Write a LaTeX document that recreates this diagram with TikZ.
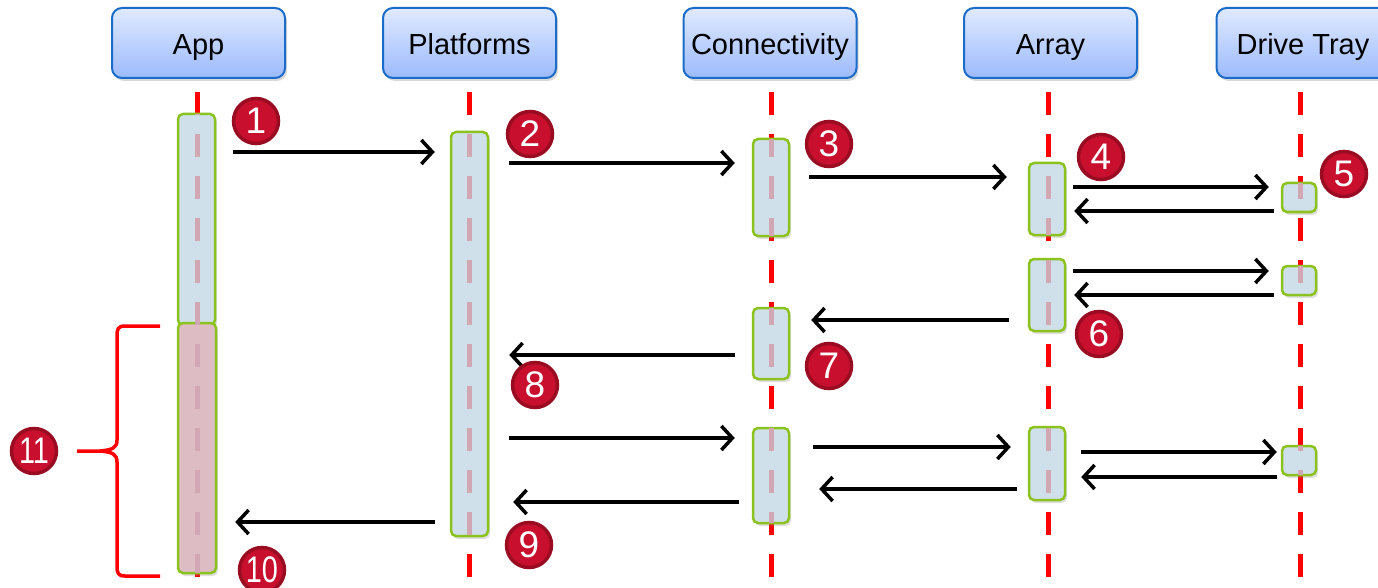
\documentclass[tikz,border=0pt]{standalone}
\usepackage{fontspec}
\setmainfont{Liberation Sans}
\usetikzlibrary{arrows.meta,shadows,fit}
\definecolor{headtop}{HTML}{E0EAFF}
\definecolor{headbot}{HTML}{9CBAFD}
\definecolor{headborder}{HTML}{1A6CC8}
\definecolor{actfill}{HTML}{CFE0EA}
\definecolor{actborder}{HTML}{8CC21E}
\definecolor{actpink}{HTML}{DEBCC4}
\definecolor{pinkdash}{HTML}{D2A7B4}
\definecolor{lifered}{HTML}{FF0000}
\definecolor{numfill}{HTML}{C8102E}
\definecolor{numring}{HTML}{9A0C22}
\tikzset{
  head/.style={draw=headborder, line width=2pt, rounded corners=10pt,
    top color=headtop, bottom color=headbot, minimum width=173pt, minimum height=70pt,
    font=\fontsize{29}{33}\selectfont, text=black, text height=23pt, text depth=0pt,
    drop shadow={shadow xshift=2pt, shadow yshift=-3pt, opacity=0.3}},
  life/.style={draw=lifered, line width=5pt, dash pattern=on 23pt off 19pt},
  pinkline/.style={draw=pinkdash, line width=5pt, dash pattern=on 23pt off 19pt},
  act/.style={draw=actborder, fill=actfill, line width=2.5pt, rounded corners=5pt, inner sep=0pt,
    drop shadow={shadow xshift=2pt, shadow yshift=-3pt, opacity=0.25}},
  actp/.style={act, fill=actpink},
  msg/.style={draw=black, line width=3.5pt, -{Straight Barb[length=11pt,width=24pt]}},
  num/.style={circle, fill=numfill, draw=numring, line width=3.5pt, minimum size=45pt, inner sep=0pt,
    text=white, font=\fontsize{37}{37}\selectfont},
  brace/.style={draw=lifered, line width=3.5pt, line join=round}
}
\begin{document}
\begin{tikzpicture}[x=1pt,y=-1pt]
\useasboundingbox (0,0) rectangle (1378,588);
% headers
\node[head] (hApp) at (198.5,43) {App};
\node[head] (hPlat) at (469.5,43) {Platforms};
\node[head] (hConn) at (770,43) {Connectivity};
\node[head] (hArr) at (1050.5,43) {Array};
\node[head] (hDrv) at (1303,43) {Drive Tray};
% lifelines
\foreach \lx in {197,469,771,1048,1300}{
  \draw[life] (\lx,92) -- (\lx,588);
}
% activation boxes
\node[act, fit={(178,114) (215,325)}] (A1) {};
\node[actp, fit={(178,323) (216,573)}] (A2) {};
\node[act, fit={(451,132) (488,536)}] (P1) {};
\node[act, fit={(753,139) (789,236)}] (C1) {};
\node[act, fit={(753,308) (789,379)}] (C2) {};
\node[act, fit={(753,428) (789,523)}] (C3) {};
\node[act, fit={(1029,163) (1065,235)}] (R1) {};
\node[act, fit={(1029,259) (1065,331)}] (R2) {};
\node[act, fit={(1029,427) (1065,500)}] (R3) {};
\node[act, fit={(1282,183) (1316,212)}] (D1) {};
\node[act, fit={(1282,266) (1316,295)}] (D2) {};
\node[act, fit={(1282,446) (1316,475)}] (D3) {};
% pink dashes inside boxes
\foreach \n/\lx in {A1/197,A2/197,P1/469,C1/771,C2/771,C3/771,R1/1048,R2/1048,R3/1048,D1/1300,D2/1300,D3/1300}{
  \begin{scope}
    \clip ([shift={(1.5pt,-1.5pt)}]\n.north west) rectangle ([shift={(-1.5pt,1.5pt)}]\n.south east);
    \draw[pinkline] (\lx,92) -- (\lx,588);
  \end{scope}
}
% messages
\draw[msg, shorten <=17pt, shorten >=15pt] (A1.east |- 0,152) -- (P1.west |- 0,152);
\draw[msg, shorten <=20pt, shorten >=17pt] (P1.east |- 0,163) -- (C1.west |- 0,163);
\draw[msg, shorten <=19pt, shorten >=21pt] (C1.east |- 0,177) -- (R1.west |- 0,177);
\draw[msg, shorten <=7pt, shorten >=12pt] (R1.east |- 0,187) -- (D1.west |- 0,187);
\draw[msg, shorten <=7pt, shorten >=8pt] (D1.west |- 0,211) -- (R1.east |- 0,211);
\draw[msg, shorten <=7pt, shorten >=12pt] (R2.east |- 0,271) -- (D2.west |- 0,271);
\draw[msg, shorten <=7pt, shorten >=8pt] (D2.west |- 0,295) -- (R2.east |- 0,295);
\draw[msg, shorten <=19pt, shorten >=21pt] (R2.west |- 0,320) -- (C2.east |- 0,320);
\draw[msg, shorten <=17pt, shorten >=20pt] (C2.west |- 0,355) -- (P1.east |- 0,355);
\draw[msg, shorten <=20pt, shorten >=17pt] (P1.east |- 0,438) -- (C3.west |- 0,438);
\draw[msg, shorten <=23pt, shorten >=17pt] (C3.east |- 0,447) -- (R3.west |- 0,447);
\draw[msg, shorten <=15pt, shorten >=4pt] (R3.east |- 0,452) -- (D3.west |- 0,452);
\draw[msg, shorten <=4pt, shorten >=15pt] (D3.west |- 0,477) -- (R3.east |- 0,477);
\draw[msg, shorten <=11pt, shorten >=29pt] (R3.west |- 0,489) -- (C3.east |- 0,489);
\draw[msg, shorten <=13pt, shorten >=24pt] (C3.west |- 0,502) -- (P1.east |- 0,502);
\draw[msg, shorten <=15pt, shorten >=18pt] (P1.west |- 0,522) -- (A2.east |- 0,522);
% brace
\draw[brace] (160,326) -- (125,326) .. controls (118,326) and (117,329) .. (117,336)
  -- (117,440) .. controls (117,448) and (112,450) .. (100,451) -- (77,451)
  (100,451) .. controls (112,452) and (117,454) .. (117,462)
  -- (117,566) .. controls (117,573) and (118,576) .. (125,576) -- (160,576);
% numbers
\node[num] (n1) at (256,121) {1};
\node[num] (n2) at (530,134) {2};
\node[num] (n3) at (829,144) {3};
\node[num] (n4) at (1101,157) {4};
\node[num] (n5) at (1344,174) {5};
\node[num] (n6) at (1099,334) {6};
\node[num] (n7) at (829,366) {7};
\node[num] (n8) at (535,385) {8};
\node[num] (n9) at (529,545) {9};
\node[num] (n10) at (262,570) {\scalebox{0.78}[1]{10}};
\node[num] (n11) at (34,451) {\scalebox{0.78}[1]{11}};
\end{tikzpicture}
\end{document}
